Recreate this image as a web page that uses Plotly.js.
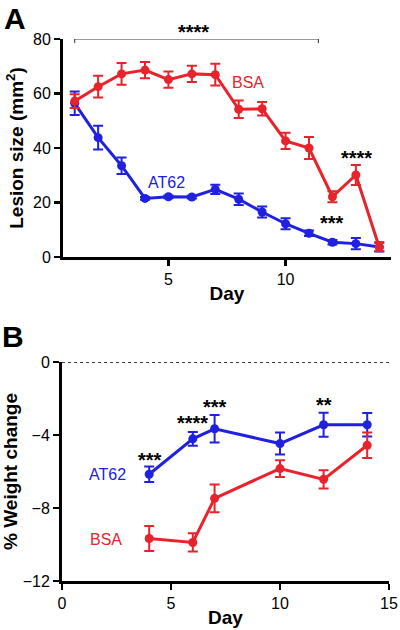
<!DOCTYPE html>
<html>
<head>
<meta charset="utf-8">
<script src="https://cdn.plot.ly/plotly-3.0.1.min.js"></script>
<style>html,body{margin:0;padding:0;background:#fff;} #chart{width:400px;height:630px;}</style>
</head>
<body>
<div id="chart"></div>
<script>
// Panel A: lesion size (mm^2) by day
const daysA = [1,2,3,4,5,6,7,8,9,10,11,12,13,14];
const bsaA = [57.2,62.5,67.2,68.6,65.1,67.2,66.9,54.2,54.4,42.6,40.0,22.1,30.1,3.6];
const bsaAErr = [2.5,4,4,3,3,3,4,3.2,2.5,3,4,2,3.7,1.5];
const at62A = [56.4,43.8,33.5,21.5,22.1,22.0,24.8,21.2,16.5,12.2,8.7,5.4,4.9,3.7];
const at62AErr = [4.3,4.4,3,0.5,0.5,0.5,1.7,2.1,2,2,1,0.8,2.1,1.7];
// Panel B: % weight change by day
const daysB = [4,6,7,10,12,14];
const bsaB = [-9.67,-9.89,-7.47,-5.84,-6.43,-4.56];
const bsaBErr = [0.68,0.5,0.76,0.46,0.5,0.7];
const at62B = [-6.15,-4.21,-3.66,-4.47,-3.44,-3.44];
const at62BErr = [0.43,0.38,0.75,0.6,0.66,0.64];
// tick labels
const ticksAx = [5,10];
const ticksAy = [0,20,40,60,80];
const ticksBx = [0,5,10,15];
const ticksBy = [-12,-8,-4,0];

const RED = '#e8232b';
const BLUE = '#2020e0';
const FONT = 'Liberation Sans, Arial, sans-serif';

function tr(x, y, err, color, xa, ya) {
  return {
    x: x, y: y, xaxis: xa, yaxis: ya, type: 'scatter', mode: 'lines+markers',
    line: {color: color, width: 3},
    marker: {color: color, size: 9},
    error_y: {type: 'data', array: err, visible: true, color: color, thickness: 2, width: 5},
    cliponaxis: false, showlegend: false, hoverinfo: 'skip'
  };
}

const data = [
  tr(daysA, at62A, at62AErr, BLUE, 'x', 'y'),
  tr(daysA, bsaA, bsaAErr, RED, 'x', 'y'),
  tr(daysB, at62B, at62BErr, BLUE, 'x2', 'y2'),
  tr(daysB, bsaB, bsaBErr, RED, 'x2', 'y2')
];

const axBase = {
  showline: true, linewidth: 3, linecolor: '#000', ticks: 'outside', ticklen: 6, tickwidth: 2.5,
  tickcolor: '#000', showgrid: false, zeroline: false, automargin: false,
  tickfont: {family: FONT, size: 16, color: '#000'}, fixedrange: true
};
const titleFont = {family: FONT, size: 19, color: '#000'};
const starFont = {family: FONT, size: 20, color: '#000'};

function star(text, xref, yref, x, y) {
  return {text: '<b>' + text + '</b>', xref: xref, yref: yref, x: x, y: y,
    xanchor: 'center', yanchor: 'middle', showarrow: false, font: starFont};
}

const layout = {
  width: 400, height: 630,
  margin: {l: 0, r: 0, t: 0, b: 0},
  paper_bgcolor: '#fff', plot_bgcolor: '#fff',
  font: {family: FONT},
  xaxis: Object.assign({}, axBase, {domain: [0.1575, 0.9775], anchor: 'y', range: [0.5, 14.5], tickvals: ticksAx,
    title: {text: '<b>Day</b>', font: titleFont, standoff: 0}}),
  yaxis: Object.assign({}, axBase, {domain: [0.5921, 0.9381], anchor: 'x', range: [0, 80], tickvals: ticksAy,
    title: {text: '<b>Lesion size (mm<sup>2</sup>)</b>', font: titleFont, standoff: 5}}),
  xaxis2: Object.assign({}, axBase, {domain: [0.155, 0.9725], anchor: 'y2', range: [0, 15], tickvals: ticksBx,
    title: {text: '<b>Day</b>', font: titleFont, standoff: 0}}),
  yaxis2: Object.assign({}, axBase, {domain: [0.0778, 0.4254], anchor: 'x2', range: [-12, 0], tickvals: ticksBy,
    title: {text: '<b>% Weight change</b>', font: titleFont, standoff: 5}}),
  shapes: [
    {type: 'path', xref: 'x', yref: 'y', path: 'M 1,78.5 L 1,80 L 11.4,80 L 11.4,78.5', line: {color: '#333', width: 1}},
    {type: 'line', xref: 'x2', yref: 'y2', x0: 0, x1: 15, y0: 0, y1: 0, line: {color: '#000', width: 1.5, dash: 'dot'}}
  ],
  annotations: [
    {text: '<b>A</b>', xref: 'paper', yref: 'paper', x: 0.005, y: 1 - 18/630, xanchor: 'left', yanchor: 'middle', showarrow: false, font: {family: FONT, size: 30, color: '#000'}},
    {text: '<b>B</b>', xref: 'paper', yref: 'paper', x: 0.0, y: 1 - 336/630, xanchor: 'left', yanchor: 'middle', showarrow: false, font: {family: FONT, size: 30, color: '#000'}},
    star('****', 'paper', 'paper', 0.4825, 1 - 32/630),
    star('****', 'x', 'y', 13.03, 36.3),
    star('***', 'x', 'y', 12.0, 12.4),
    {text: 'BSA', xref: 'x', yref: 'y', x: 8.4, y: 63.9, showarrow: false, font: {family: FONT, size: 16, color: RED}},
    {text: 'AT62', xref: 'x', yref: 'y', x: 4.9, y: 27.2, showarrow: false, font: {family: FONT, size: 16, color: BLUE}},
    star('***', 'x2', 'y2', 4.03, -5.37),
    star('****', 'x2', 'y2', 6.0, -3.34),
    star('***', 'x2', 'y2', 7.0, -2.46),
    star('**', 'x2', 'y2', 12.0, -2.35),
    {text: 'AT62', xref: 'x2', yref: 'y2', x: 2.1, y: -6.17, showarrow: false, font: {family: FONT, size: 16, color: BLUE}},
    {text: 'BSA', xref: 'x2', yref: 'y2', x: 2.0, y: -9.7, showarrow: false, font: {family: FONT, size: 16, color: RED}}
  ]
};

Plotly.newPlot('chart', data, layout, {staticPlot: true, displayModeBar: false});
</script>
</body>
</html>
